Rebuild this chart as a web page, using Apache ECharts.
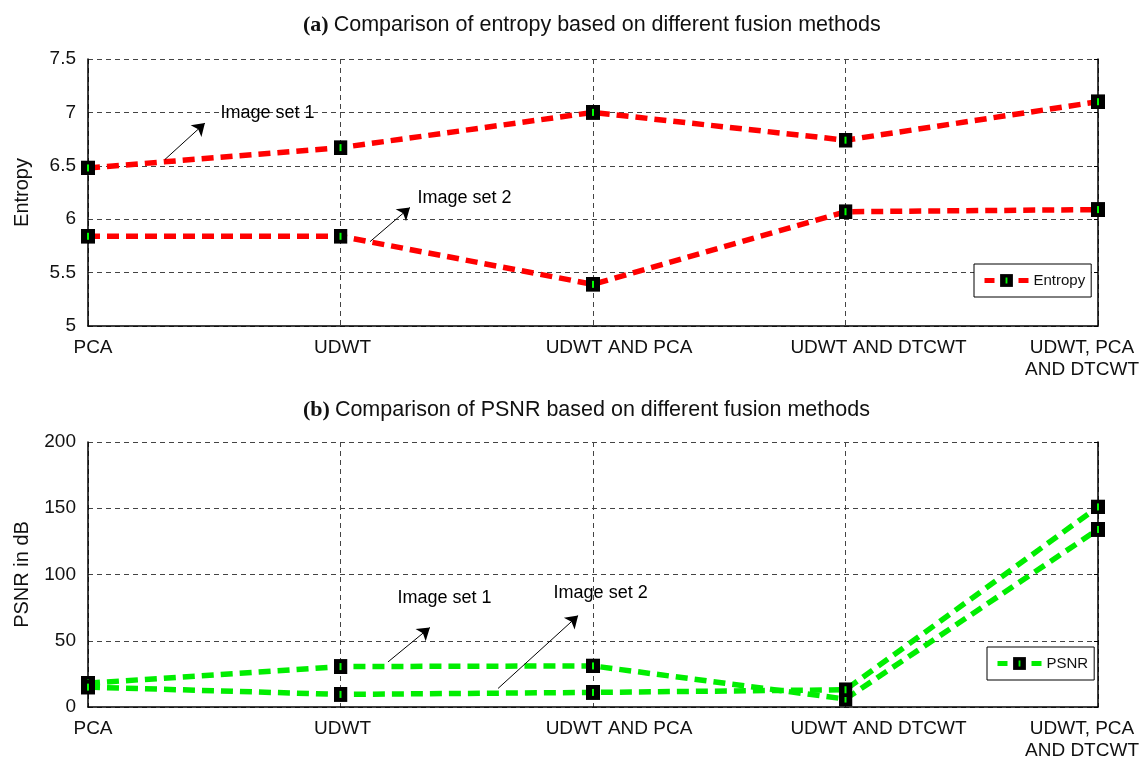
<!DOCTYPE html>
<html>
<head>
<meta charset="utf-8">
<script src="https://cdn.jsdelivr.net/npm/echarts@6/dist/echarts.min.js"></script>
<style>
html,body{margin:0;padding:0;background:#fff;}
#chart{width:1142px;height:758px;}
</style>
</head>
<body>
<div id="chart"></div>
<script>
// ---------- DATA ----------
const categories = ['PCA', 'UDWT', 'UDWT AND PCA', 'UDWT AND DTCWT', 'UDWT, PCA\nAND DTCWT'];
const entropySet1 = [6.48, 6.67, 7.00, 6.74, 7.10];
const entropySet2 = [5.84, 5.84, 5.39, 6.07, 6.09];
const psnrSet1 = [18, 30.5, 31, 6, 134];
const psnrSet2 = [15, 9.5, 11, 13, 151];
const entropyTicks = [5, 5.5, 6, 6.5, 7, 7.5];
const psnrTicks = [0, 50, 100, 150, 200];
const titleA = ['(a)', 'Comparison of entropy based on different fusion methods'];
const titleB = ['(b)', 'Comparison of PSNR based on different fusion methods'];
// annotation text anchors and arrows, in data units (category index, value)
const entropyNotes = [['Image set 1', 0.523, 6.99], ['Image set 2', 1.303, 6.20]];
const entropyArrows = [[0.305, 6.56, 0.463, 6.90], [1.117, 5.79, 1.275, 6.11]];
const psnrNotes = [['Image set 1', 1.224, 82], ['Image set 2', 1.842, 86]];
const psnrArrows = [[1.188, 34, 1.354, 60], [1.624, 14, 1.941, 69]];

// ---------- STYLE ----------
const FONT = '"Liberation Sans", Arial, sans-serif';
const labelShift = [10, 4, 52, 66, -32];
const markerSvg = 'image://data:image/svg+xml;utf8,' + encodeURIComponent(
  "<svg xmlns='http://www.w3.org/2000/svg' width='14' height='15' viewBox='0 0 14 15'>" +
  "<rect width='14' height='15' fill='#000'/><rect x='6' y='4' width='2' height='7' fill='#00ff00'/></svg>");

const rich = {};
labelShift.forEach((s, i) => {
  rich['p' + i] = {
    fontSize: 19, fontFamily: FONT, color: '#111', lineHeight: 22,
    padding: s >= 0 ? [0, 0, 0, s] : [0, -s, 0, 0]
  };
});

function catAxis(gridIndex) {
  return {
    type: 'category', gridIndex, data: categories, boundaryGap: false,
    axisLine: { lineStyle: { color: '#000', width: 1.5 } },
    axisTick: { show: false },
    splitLine: { show: true, lineStyle: { color: '#444', width: 1, type: [5, 4] } },
    axisLabel: {
      interval: 0, margin: 11, color: '#111',
      formatter: (v, i) => v.split('\n').map(l => '{p' + i + '|' + l + '}').join('\n'),
      rich
    }
  };
}
function hiddenX(gridIndex) {
  return { type: 'value', gridIndex, min: 0, max: categories.length - 1, show: false,
           splitLine: { show: false } };
}
function valAxis(gridIndex, ticks, name, nameGap) {
  return {
    type: 'value', gridIndex, min: ticks[0], max: ticks[ticks.length - 1],
    interval: ticks[1] - ticks[0],
    name, nameLocation: 'middle', nameGap,
    nameTextStyle: { fontSize: 20, fontFamily: FONT, color: '#111' },
    axisLine: { show: true, lineStyle: { color: '#000', width: 1.5 } },
    axisTick: { show: false },
    axisLabel: { fontSize: 19, fontFamily: FONT, color: '#111', margin: 12 },
    splitLine: { show: true, lineStyle: { color: '#444', width: 1, type: [5, 4] } }
  };
}
function rightAxis(gridIndex, ticks) {
  return {
    type: 'value', gridIndex, position: 'right', min: ticks[0], max: ticks[ticks.length - 1],
    interval: ticks[1] - ticks[0],
    axisLine: { show: true, lineStyle: { color: '#000', width: 1.5 } },
    axisTick: { show: true, inside: true, length: 4, lineStyle: { color: '#000' } },
    axisLabel: { show: false }, splitLine: { show: false }
  };
}
function dataSeries(name, data, color, xi, yi) {
  return {
    type: 'line', name, data, xAxisIndex: xi, yAxisIndex: yi,
    symbol: markerSvg, symbolSize: [14, 15], showAllSymbol: true,
    lineStyle: { color, width: 5.5, type: [12, 7] },
    itemStyle: { color },
    z: 3
  };
}
function noteSeries(notes, arrows, xi, yi) {
  return {
    type: 'scatter', name: 'note' + xi, xAxisIndex: xi, yAxisIndex: yi,
    symbolSize: 1, itemStyle: { color: 'transparent', opacity: 1 }, silent: true,
    data: notes.map(n => ({ name: n[0], value: [n[1], n[2]] })),
    label: { show: true, position: 'right', distance: 0, formatter: p => p.name,
             fontSize: 18, fontFamily: FONT, color: '#000', opacity: 1 },
    markLine: {
      silent: true, animation: false,
      symbol: ['none', 'arrow'], symbolSize: 12,
      lineStyle: { color: '#000', width: 1, type: 'solid', opacity: 1 },
      itemStyle: { color: '#000' },
      label: { show: false },
      data: arrows.map(a => [{ coord: [a[0], a[1]] }, { coord: [a[2], a[3]] }])
    },
    z: 5
  };
}
function legendBox(name, top, left) {
  return {
    data: [name], top, left, orient: 'vertical',
    itemWidth: 44, itemHeight: 16, itemGap: 0,
    padding: [9, 6, 9, 8],
    borderColor: '#000', borderWidth: 1, backgroundColor: '#fff',
    lineStyle: { width: 5, type: [10, 24] },
    textStyle: { fontSize: 15, fontFamily: FONT, color: '#111' }
  };
}
function titleOf(t, top) {
  return {
    text: '{b|' + t[0] + '} {t|' + t[1] + '}', left: 298, top,
    textStyle: {
      fontWeight: 'normal',
      rich: {
        b: { fontFamily: '"Liberation Serif", "Times New Roman", serif', fontWeight: 'bold', fontSize: 22, color: '#111' },
        t: { fontFamily: FONT, fontWeight: 'normal', fontSize: 21.5, color: '#111' }
      }
    }
  };
}

const chart = echarts.init(document.getElementById('chart'));
chart.setOption({
  animation: false,
  backgroundColor: '#fff',
  title: [titleOf(titleA, 9), titleOf(titleB, 394)],
  legend: [legendBox('Entropy', 264, 974), legendBox('PSNR', 647, 987)],
  grid: [
    { left: 88, right: 44, top: 59, height: 267, outerBoundsMode: 'none', containLabel: false },
    { left: 88, right: 44, top: 442, height: 265, outerBoundsMode: 'none', containLabel: false }
  ],
  xAxis: [catAxis(0), catAxis(1), hiddenX(0), hiddenX(1)],
  yAxis: [valAxis(0, entropyTicks, 'Entropy', 56), valAxis(1, psnrTicks, 'PSNR in dB', 56),
          rightAxis(0, entropyTicks), rightAxis(1, psnrTicks)],
  series: [
    dataSeries('Entropy', entropySet1, '#ff0000', 0, 0),
    dataSeries('Entropy', entropySet2, '#ff0000', 0, 0),
    dataSeries('PSNR', psnrSet1, '#00ee00', 1, 1),
    dataSeries('PSNR', psnrSet2, '#00ee00', 1, 1),
    noteSeries(entropyNotes, entropyArrows, 2, 0),
    noteSeries(psnrNotes, psnrArrows, 3, 1)
  ]
});
</script>
</body>
</html>
